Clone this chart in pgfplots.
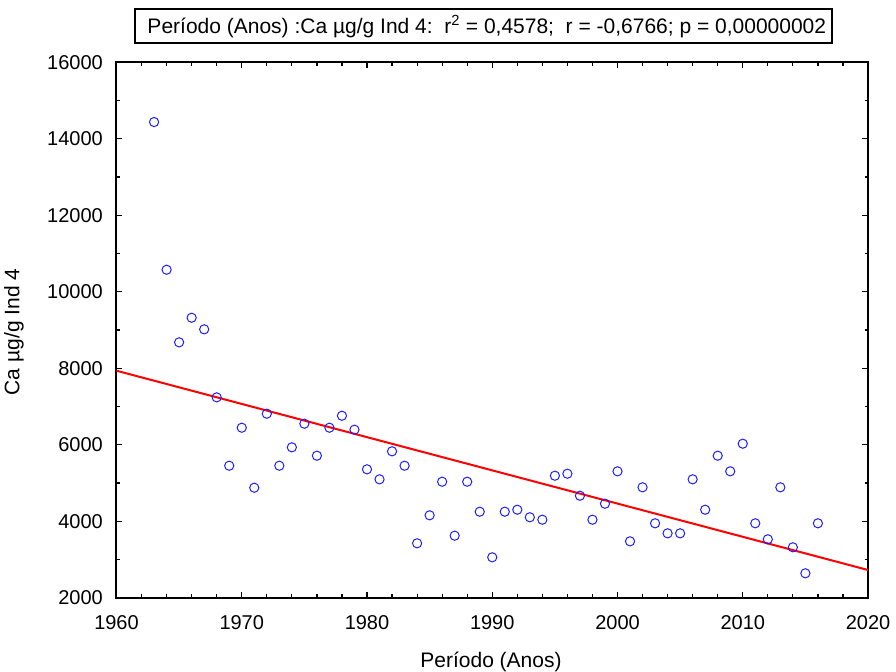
\documentclass[border=0pt]{standalone}
\usepackage{fontspec}
\setmainfont{Liberation Sans}
\usepackage{pgfplots}
\usepackage{pgfplotstable}
\pgfplotsset{compat=1.18}

% Ca (ug/g) for individual 4, one sample per year
\pgfplotstableread{
ano   ca
1963  14435
1964  10574
1965  8676
1966  9319
1967  9016
1968  7238
1969  5450
1970  6444
1971  4875
1972  6810
1973  5450
1974  5931
1975  6548
1976  5712
1977  6444
1978  6757
1979  6392
1980  5356
1981  5095
1982  5827
1983  5450
1984  3422
1985  4154
1986  5032
1987  3621
1988  5032
1989  4248
1990  3056
1991  4248
1992  4300
1993  4102
1994  4039
1995  5189
1996  5241
1997  4666
1998  4039
1999  4457
2000  5304
2001  3474
2002  4886
2003  3945
2004  3683
2005  3683
2006  5095
2007  4300
2008  5712
2009  5304
2010  6026
2011  3945
2012  3527
2013  4886
2014  3317
2015  2638
2016  3945
}\dados

\begin{document}
\begin{tikzpicture}[x=1bp,y=1bp]
\useasboundingbox (-116.5,-74.3) rectangle (779.5,597.7);
\begin{axis}[
  at={(0,0)}, anchor=south west,
  scale only axis, width=751.5bp, height=535.5bp,
  xmin=1960, xmax=2020, ymin=2000, ymax=16000,
  xtick={1960,1970,...,2020}, ytick={2000,4000,...,16000},
  scaled ticks=false,
  minor x tick num=4, minor y tick num=1,
  tick align=inside, tick pos=both,
  major tick length=6bp, minor tick length=3.5bp,
  axis line style={line width=2bp},
  every tick/.append style={black, line width=1.2bp},
  /pgf/number format/.cd, 1000 sep={}, fixed, precision=0, assume math mode=true, /pgfplots/.cd,
  ticklabel style={font=\fontsize{20bp}{24bp}\selectfont},
  xticklabel style={anchor=north, inner sep=0pt, yshift=-18bp},
  yticklabel style={anchor=east, inner sep=0pt, xshift=-13.5bp},
]
\addplot[only marks, mark=o, mark size=4.6bp, color={rgb,255:red,30;green,30;blue,255},
  mark options={line width=1bp}] table[x=ano, y=ca] {\dados};
% linear fit
\addplot[red, line width=2bp] coordinates {(1960,7934) (2020,2724)};
\end{axis}
\draw[line width=1.8bp] (18.5,555) rectangle (715.2,588.4);
\node[anchor=base west, inner sep=0pt, font=\fontsize{21bp}{25bp}\selectfont]
  at (30.8,564.4) {Período (Anos) :Ca µg/g Ind 4:\ \ r\textsuperscript{2} = 0,4578;\ \ r = -0,6766; p = 0,00000002};
\node[anchor=base, inner sep=0pt, font=\fontsize{21bp}{25bp}\selectfont]
  at (374.5,-70.3) {Período (Anos)};
\node[rotate=90, anchor=base, inner sep=0pt, font=\fontsize{21bp}{25bp}\selectfont]
  at (-97,265.7) {Ca µg/g Ind 4};
\end{tikzpicture}
\end{document}
